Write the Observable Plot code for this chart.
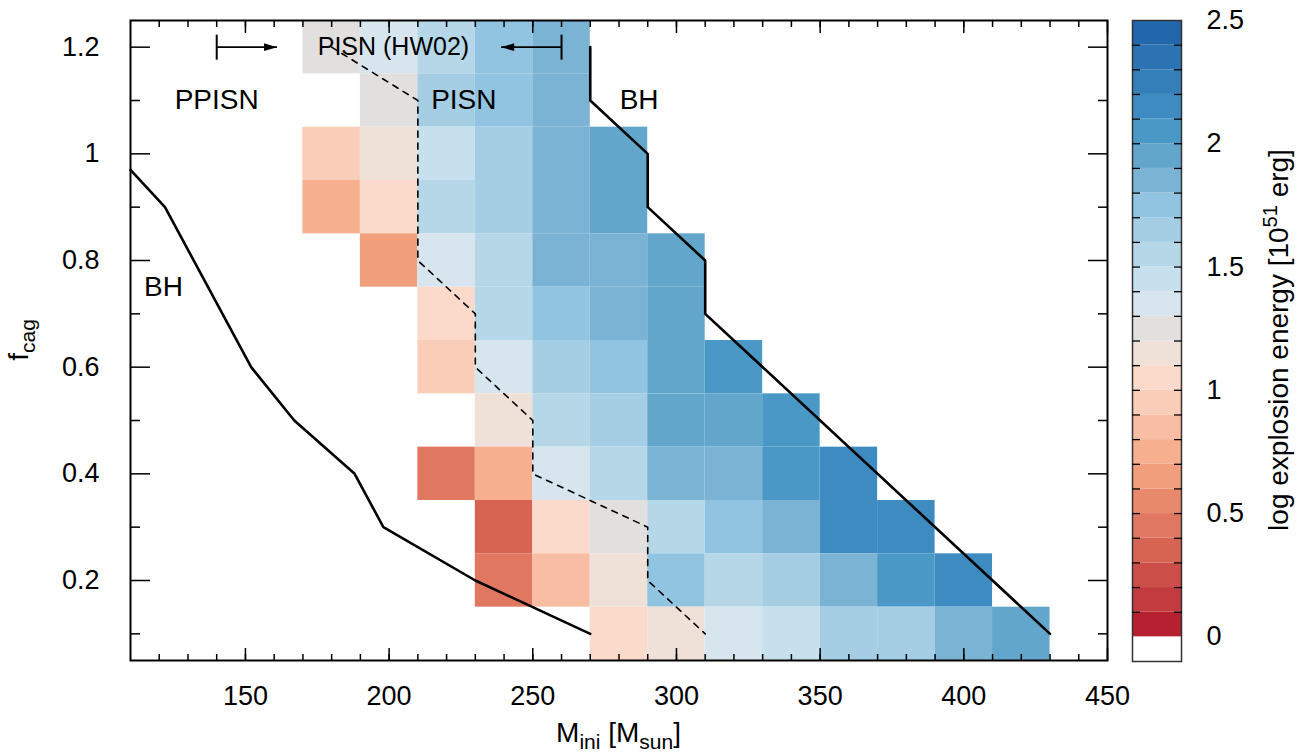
<!DOCTYPE html>
<html>
<head>
<meta charset="utf-8">
<script src="https://cdn.jsdelivr.net/npm/d3@7"></script>
<script src="https://cdn.jsdelivr.net/npm/@observablehq/plot@0.6"></script>
<style>
  body { margin: 0; background: #fff; }
  #chart { position: relative; width: 1304px; height: 753px; font-family: "Liberation Sans", Arial, sans-serif; }
  #chart svg { position: absolute; top: 0; }
</style>
</head>
<body>
<div id="chart"></div>
<script>
// ---------------- data ----------------
const masses = [180, 200, 220, 240, 260, 280, 300, 320, 340, 360, 380, 400, 420];
const fcag   = [1.2, 1.1, 1.0, 0.9, 0.8, 0.7, 0.6, 0.5, 0.4, 0.3, 0.2, 0.1];
// log explosion energy per row (aligned with masses); null = no explosion
const row_1_2 = [1.25, 1.35, 1.55, 1.75, 1.85, null, null, null, null, null, null, null, null];
const row_1_1 = [null, 1.25, 1.65, 1.75, 1.85, null, null, null, null, null, null, null, null];
const row_1_0 = [0.95, 1.15, 1.45, 1.65, 1.85, 1.95, null, null, null, null, null, null, null];
const row_0_9 = [0.75, 1.05, 1.55, 1.65, 1.85, 1.95, null, null, null, null, null, null, null];
const row_0_8 = [null, 0.65, 1.35, 1.55, 1.85, 1.85, 1.95, null, null, null, null, null, null];
const row_0_7 = [null, null, 1.05, 1.55, 1.75, 1.85, 1.95, null, null, null, null, null, null];
const row_0_6 = [null, null, 0.95, 1.35, 1.65, 1.75, 1.95, 2.05, null, null, null, null, null];
const row_0_5 = [null, null, null, 1.15, 1.55, 1.65, 1.95, 1.95, 2.05, null, null, null, null];
const row_0_4 = [null, null, 0.45, 0.75, 1.35, 1.55, 1.85, 1.85, 2.05, 2.15, null, null, null];
const row_0_3 = [null, null, null, 0.35, 1.05, 1.25, 1.55, 1.75, 1.85, 2.15, 2.15, null, null];
const row_0_2 = [null, null, null, 0.45, 0.85, 1.15, 1.75, 1.55, 1.65, 1.85, 2.05, 2.15, null];
const row_0_1 = [null, null, null, null, null, 1.05, 1.15, 1.35, 1.45, 1.65, 1.65, 1.85, 1.95];
const rows = [row_1_2, row_1_1, row_1_0, row_0_9, row_0_8, row_0_7, row_0_6, row_0_5, row_0_4, row_0_3, row_0_2, row_0_1];

// boundary lines
const bhLeft = [[110, 0.97], [122, 0.9], [152, 0.6], [167, 0.5], [188, 0.4], [198, 0.3], [230, 0.2], [270, 0.1]];
const bhRight = [[270, 1.2], [270, 1.1], [290, 1.0], [290, 0.9], [310, 0.8], [310, 0.7], [430, 0.1]];
const pisnEdge = [[180, 1.2], [210, 1.1], [210, 0.8], [230, 0.7], [230, 0.6], [250, 0.5], [250, 0.4], [290, 0.3], [290, 0.2], [310, 0.1]];

// annotations
const regionLabels = [
  {label: "PPISN", M: 140, f: 1.1},
  {label: "PISN", M: 226, f: 1.1},
  {label: "BH", M: 287, f: 1.1},
  {label: "BH", M: 121.5, f: 0.75}
];
const hwLabel = [{label: "PISN (HW02)", M: 201.5, f: 1.2}];
const hwArrows = [{from: 140, to: 161, f: 1.2}, {from: 260, to: 239, f: 1.2}];

// ticks
const xMajor = [150, 200, 250, 300, 350, 400, 450];
const xMinor = [120, 130, 140, 150, 160, 170, 180, 190, 200, 210, 220, 230, 240, 250, 260, 270, 280, 290, 300, 310, 320, 330, 340, 350, 360, 370, 380, 390, 400, 410, 420, 430, 440];
const yMajor = [0.2, 0.4, 0.6, 0.8, 1, 1.2];
const yMinor = [0.1, 0.3, 0.5, 0.7, 0.9, 1.1];
const cbMajor = [0, 0.5, 1, 1.5, 2, 2.5];

// palette (25 steps of 0.1 from 0 to 2.5; white below 0)
const palette = ["#b72030", "#c23b3f", "#cc4e48", "#d76352", "#e07761", "#e8896c", "#f09e7c", "#f6af8f", "#f8bda2", "#f9cdb7",
                 "#fbdacb", "#efe0d8", "#e1e0df", "#d7e5ee", "#c6e0ee", "#b5d7e8", "#a5cde4", "#91c4e0", "#7ab3d4", "#62a6cc",
                 "#4a98c6", "#3e8bc2", "#347fba", "#2b73b3", "#2266ac"];

// ---------------- build ----------------
const cells = rows.flatMap((r, i) => r.map((E, j) => ({M: masses[j], f: fcag[i], E})).filter(d => d.E != null));
const pts = a => a.map(([M, f]) => ({M, f}));
const thresholds = d3.range(25).map(i => i / 10);
const colorOpts = {type: "threshold", domain: thresholds, range: ["#ffffff", ...palette]};
const cbBins = d3.range(-1, 25).map(i => ({lo: i / 10, hi: (i + 1) / 10, v: (i + 0.5) / 10}));
const cbTicks = d3.range(1, 25).map(i => i / 10);

const barSymbol = {draw(ctx) { ctx.moveTo(0, -12.5); ctx.lineTo(0, 12.5); }};
const headRight = {draw(ctx) { ctx.moveTo(0, 0); ctx.lineTo(-13, -3.8); ctx.lineTo(-13, 3.8); ctx.closePath(); }};
const headLeft = {draw(ctx) { ctx.moveTo(0, 0); ctx.lineTo(13, -3.8); ctx.lineTo(13, 3.8); ctx.closePath(); }};

const font = '"Liberation Sans", Arial, sans-serif';
const W = 1304, H = 753, mL = 130, mR = 197, mT = 20, mB = 93;
const fmt = d3.format("~g");

const main = Plot.plot({
  width: W, height: H,
  marginLeft: mL, marginRight: mR, marginTop: mT, marginBottom: mB,
  style: {fontFamily: font, fontSize: "27px", color: "black", background: "transparent", overflow: "visible"},
  x: {domain: [110, 450]},
  y: {domain: [0.05, 1.25]},
  color: colorOpts,
  marks: [
    Plot.rect(cells, {x1: d => d.M - 10, x2: d => d.M + 10, y1: d => d.f - 0.05, y2: d => d.f + 0.05, fill: "E"}),
    Plot.line(pts(bhLeft), {x: "M", y: "f", stroke: "black", strokeWidth: 2.6}),
    Plot.line(pts(bhRight), {x: "M", y: "f", stroke: "black", strokeWidth: 2.6}),
    Plot.line(pts(pisnEdge), {x: "M", y: "f", stroke: "black", strokeWidth: 1.6, strokeDasharray: "6,6"}),
    Plot.text(hwLabel, {x: "M", y: "f", text: "label", fontSize: 25, fill: "black"}),
    Plot.link(hwArrows, {x1: "from", x2: "to", y1: "f", y2: "f", stroke: "black", strokeWidth: 1.6}),
    Plot.dot(hwArrows, {x: "from", y: "f", symbol: barSymbol, stroke: "black", strokeWidth: 2, fill: "none"}),
    Plot.dot(hwArrows, {filter: d => d.to > d.from, x: "to", y: "f", symbol: headRight, fill: "black", stroke: "none"}),
    Plot.dot(hwArrows, {filter: d => d.to < d.from, x: "to", y: "f", symbol: headLeft, fill: "black", stroke: "none"}),
    Plot.text(regionLabels, {x: "M", y: "f", text: "label", fontSize: 28, fill: "black"}),
    Plot.frame({stroke: "black", strokeWidth: 2}),
    // inward ticks on all four sides
    Plot.axisX({anchor: "bottom", ticks: xMinor, tickSize: -6, fill: "none", strokeWidth: 1.5, label: null}),
    Plot.axisX({anchor: "bottom", ticks: xMajor, tickSize: -12, fill: "none", strokeWidth: 1.5, label: null}),
    Plot.axisX({anchor: "top", ticks: xMinor, tickSize: -6, fill: "none", strokeWidth: 1.5, label: null}),
    Plot.axisX({anchor: "top", ticks: xMajor, tickSize: -12, fill: "none", strokeWidth: 1.5, label: null}),
    Plot.axisY({anchor: "left", ticks: yMinor, tickSize: -10, fill: "none", strokeWidth: 1.5, label: null}),
    Plot.axisY({anchor: "left", ticks: yMajor, tickSize: -20, fill: "none", strokeWidth: 1.5, label: null}),
    Plot.axisY({anchor: "right", ticks: yMinor, tickSize: -10, fill: "none", strokeWidth: 1.5, label: null}),
    Plot.axisY({anchor: "right", ticks: yMajor, tickSize: -20, fill: "none", strokeWidth: 1.5, label: null}),
    // tick labels
    Plot.axisX({anchor: "bottom", ticks: xMajor, tickSize: 0, tickPadding: 25, tickFormat: fmt, fontSize: 27, fill: "black", label: null}),
    Plot.axisY({anchor: "left", ticks: yMajor, tickSize: 0, tickPadding: 31, tickFormat: fmt, fontSize: 27, fill: "black", label: null})
  ]
});

// colorbar
const cbLeft = 1132, cbWidth = 49, cbSvgW = W - cbLeft;
const cb = Plot.plot({
  width: cbSvgW, height: H,
  marginLeft: 0, marginRight: cbSvgW - cbWidth, marginTop: mT, marginBottom: H - 661,
  style: {fontFamily: font, fontSize: "27px", color: "black", background: "transparent", overflow: "visible"},
  x: {domain: [0, 1], axis: null},
  y: {domain: [-0.1, 2.5], axis: null},
  color: colorOpts,
  marks: [
    Plot.rect(cbBins, {x1: 0, x2: 1, y1: "lo", y2: "hi", fill: "v"}),
    Plot.frame({stroke: "#333", strokeWidth: 1.5}),
    Plot.axisY({anchor: "left", ticks: cbTicks, tickSize: -8, fill: "none", strokeWidth: 1.3, label: null}),
    Plot.axisY({anchor: "right", ticks: cbTicks, tickSize: -8, fill: "none", strokeWidth: 1.3, label: null}),
    Plot.axisY({anchor: "right", ticks: cbMajor, tickSize: 0, tickPadding: 25, tickFormat: fmt, fontSize: 27, fill: "black", textAnchor: "start", label: null})
  ]
});
cb.style.left = cbLeft + "px";

const chart = document.getElementById("chart");
chart.appendChild(main);
chart.appendChild(cb);

// axis titles with sub/superscripts
const sm = d3.select(main);
const xt = sm.append("text")
  .attr("x", (mL + (W - mR)) / 2).attr("y", 742)
  .attr("text-anchor", "middle").attr("font-size", 28).attr("fill", "black").attr("font-family", font);
xt.append("tspan").text("M");
xt.append("tspan").attr("font-size", 21).attr("dy", 7).text("ini");
xt.append("tspan").attr("dy", -7).text(" [M");
xt.append("tspan").attr("font-size", 21).attr("dy", 7).text("sun");
xt.append("tspan").attr("dy", -7).text("]");

const yt = sm.append("text")
  .attr("transform", `translate(28,${(mT + (H - mB)) / 2}) rotate(-90)`)
  .attr("text-anchor", "middle").attr("font-size", 28).attr("fill", "black").attr("font-family", font);
yt.append("tspan").text("f");
yt.append("tspan").attr("font-size", 21).attr("dy", 7).text("cag");

const sc = d3.select(cb);
const ct = sc.append("text")
  .attr("transform", `translate(${1288 - cbLeft},340) rotate(-90)`)
  .attr("text-anchor", "middle").attr("font-size", 28).attr("fill", "black").attr("font-family", font);
ct.append("tspan").text("log explosion energy [10");
ct.append("tspan").attr("font-size", 20).attr("dy", -11).text("51");
ct.append("tspan").attr("dy", 11).text(" erg]");
</script>
</body>
</html>
